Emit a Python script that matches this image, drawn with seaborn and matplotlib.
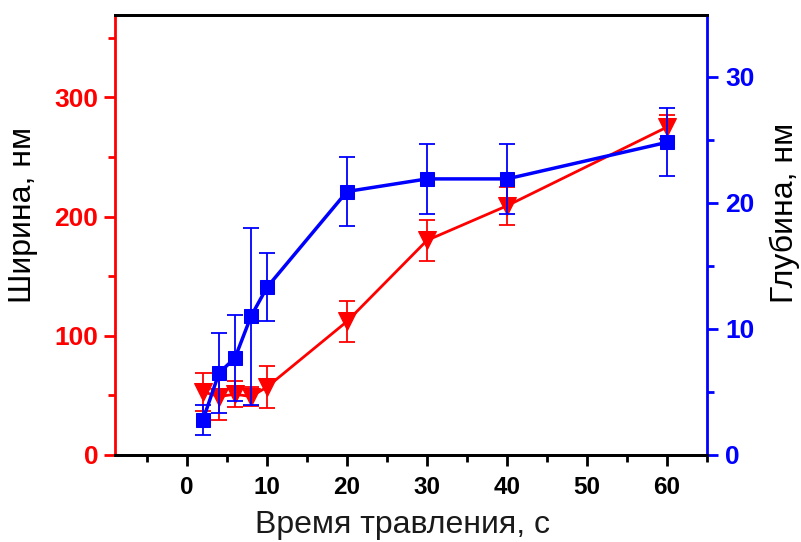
import matplotlib
matplotlib.use("Agg")
import matplotlib.pyplot as plt
import seaborn as sns
import pandas as pd
from matplotlib.ticker import MultipleLocator

# Data
time_s = [2, 4, 6, 8, 10, 20, 30, 40, 60]
width_nm = [53, 49, 51, 49, 57, 112, 180, 209, 275]
width_err = [16, 20, 11, 8, 18, 17, 17, 16, 10]
depth_nm = [2.8, 6.5, 7.7, 11.0, 13.3, 20.9, 21.9, 21.9, 24.8]
depth_err = [1.2, 3.2, 3.4, 7.0, 2.7, 2.75, 2.75, 2.75, 2.7]

x_ticks = [0, 10, 20, 30, 40, 50, 60]
left_ticks = [0, 100, 200, 300]
right_ticks = [0, 10, 20, 30]

xlabel = "Время травления, с"
ylabel_left = "Ширина, нм"
ylabel_right = "Глубина, нм"

RED = "#ff0000"
BLUE = "#0000ff"

sns.set_theme(style="white")
plt.rcParams['font.family'] = ['Liberation Sans', 'DejaVu Sans']

df = pd.DataFrame({"t": time_s, "w": width_nm, "we": width_err,
                   "d": depth_nm, "de": depth_err})

fig = plt.figure(figsize=(8.01, 5.42), dpi=100)
ax = fig.add_axes([115/801, 1 - 455/542, (707-115)/801, (455-15)/542])
ax2 = ax.twinx()

# Width (left axis)
ax.errorbar(df["t"], df["w"], yerr=df["we"], fmt="none", ecolor=RED,
            elinewidth=1.3, capsize=6, capthick=1.3, zorder=2)
sns.lineplot(data=df, x="t", y="w", ax=ax, color=RED, marker="v",
             markersize=12.5, markeredgecolor=RED, linewidth=2.0, zorder=3)

# Depth (right axis)
ax2.errorbar(df["t"], df["d"], yerr=df["de"], fmt="none", ecolor=BLUE,
             elinewidth=1.3, capsize=6, capthick=1.3, zorder=2)
sns.lineplot(data=df, x="t", y="d", ax=ax2, color=BLUE, marker="s",
             markersize=10, markeredgecolor=BLUE, linewidth=2.5, zorder=3)

ax.set_xlim(-9, 65)
ax.set_ylim(0, 369)
ax2.set_ylim(0, 34.9)

ax.set_xticks(x_ticks)
ax.xaxis.set_minor_locator(MultipleLocator(5))
ax.set_yticks(left_ticks)
ax.yaxis.set_minor_locator(MultipleLocator(50))
ax2.set_yticks(right_ticks)
ax2.yaxis.set_minor_locator(MultipleLocator(5))

for a in (ax, ax2):
    for s in a.spines.values():
        s.set_linewidth(2.0)
        s.set_color("black")
ax.spines["left"].set_color(RED)
ax2.spines["left"].set_visible(False)
ax.spines["right"].set_visible(False)
ax2.spines["right"].set_color(BLUE)

ax.tick_params(axis="x", which="major", direction="out", length=8, width=2,
               colors="black", labelsize=17.5, pad=7, bottom=True)
ax.tick_params(axis="x", which="minor", direction="out", length=5, width=2,
               colors="black", bottom=True)
ax.tick_params(axis="y", which="major", direction="out", length=8, width=2,
               colors=RED, labelsize=19, pad=4, left=True)
ax.tick_params(axis="y", which="minor", direction="out", length=5, width=2,
               colors=RED, left=True)
ax2.tick_params(axis="y", which="major", direction="out", length=8, width=2,
                colors=BLUE, labelsize=19, pad=5, right=True)
ax2.tick_params(axis="y", which="minor", direction="out", length=5, width=2,
                colors=BLUE, right=True)

for lbl in ax.get_xticklabels() + ax.get_yticklabels() + ax2.get_yticklabels():
    lbl.set_fontweight("bold")

ax.set_xlabel(xlabel, fontsize=23, color="#1a1a1a")
ax.set_ylabel(ylabel_left, fontsize=23, color="black")
ax2.set_ylabel(ylabel_right, fontsize=23, color="black")
ax.xaxis.set_label_coords(0.486, -0.126)
ax.yaxis.set_label_coords(-0.13, 0.545)
ax2.yaxis.set_label_coords(1.105, 0.55)

ax.grid(False)
ax2.grid(False)

fig.savefig("out.png", dpi=100)
